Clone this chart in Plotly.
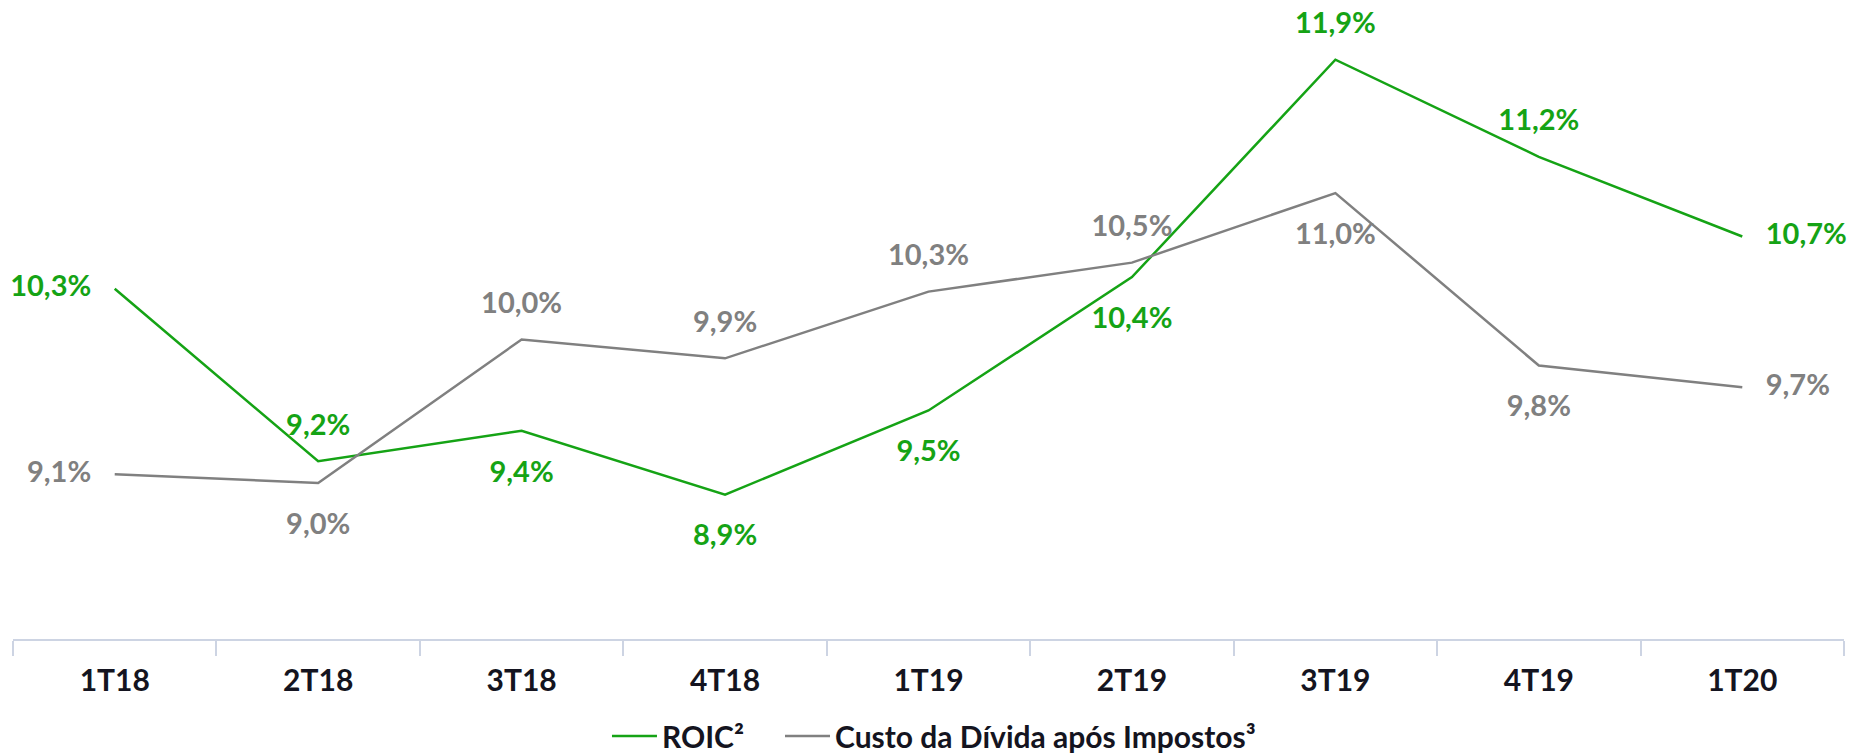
import plotly.graph_objects as go

categories = ["1T18", "2T18", "3T18", "4T18", "1T19", "2T19", "3T19", "4T19", "1T20"]

roic = [10.34, 9.15, 9.36, 8.92, 9.50, 10.42, 11.92, 11.25, 10.70]
roic_labels = ["10,3%", "9,2%", "9,4%", "8,9%", "9,5%", "10,4%", "11,9%", "11,2%", "10,7%"]

custo = [9.06, 9.00, 9.99, 9.86, 10.32, 10.52, 11.00, 9.81, 9.66]
custo_labels = ["9,1%", "9,0%", "10,0%", "9,9%", "10,3%", "10,5%", "11,0%", "9,8%", "9,7%"]

roic_pos = ["middle left", "top center", "bottom center", "bottom center", "bottom center",
            "bottom center", "top center", "top center", "middle right"]
custo_pos = ["middle left", "bottom center", "top center", "top center", "top center",
             "top center", "bottom center", "bottom center", "middle right"]

GREEN = "#15A315"
GRAY = "#808080"
DARK = "#141420"
FONT = "Lato"
FS = 29

# invisible marker size only used to push the labels away from the points
offset_size = {"top center": 29, "bottom center": 45, "middle left": 36, "middle right": 36}


def trace(name, y, labels, pos, color, legend):
    return go.Scatter(
        x=categories, y=y, name=name, legend=legend,
        mode="lines+markers+text",
        text=labels, textposition=pos,
        textfont=dict(family=FONT, size=FS, color=color, weight="bold"),
        line=dict(color=color, width=2.5),
        marker=dict(size=[offset_size[p] for p in pos], color="rgba(0,0,0,0)",
                    line=dict(width=0)),
        hoverinfo="skip", cliponaxis=False,
    )


fig = go.Figure()
fig.add_trace(trace("ROIC²", roic, roic_labels, roic_pos, GREEN, "legend"))
fig.add_trace(trace("Custo da Dívida após Impostos³", custo, custo_labels, custo_pos, GRAY, "legend2"))

legend_style = dict(
    orientation="h", xanchor="left", y=-0.153, yanchor="middle",
    font=dict(family=FONT, size=30, color=DARK, weight="bold"),
    itemwidth=45, bgcolor="rgba(0,0,0,0)",
)

fig.update_layout(
    width=1863, height=754,
    paper_bgcolor="white", plot_bgcolor="white",
    margin=dict(l=13, r=19, t=5, b=115, autoexpand=False),
    font=dict(family=FONT, size=FS, color=DARK),
    showlegend=True,
    legend=dict(x=0.3244, **legend_style),
    legend2=dict(x=0.4189, **legend_style),
)
fig.update_xaxes(
    type="category", range=[-0.5, 8.5], showgrid=False, zeroline=False,
    showline=True, linecolor="#CDD4E3", linewidth=2,
    ticks="outside", tickson="boundaries", ticklen=15, tickcolor="#CDD4E3", tickwidth=1.5,
    tickfont=dict(family=FONT, size=30, color=DARK, weight="bold"),
    ticklabelstandoff=14,
)
fig.update_yaxes(visible=False, range=[7.924, 12.297], showgrid=False, zeroline=False)

fig.write_html(
    "out.html",
    config={"displayModeBar": False},
    post_script="document.body.style.margin='0';document.body.style.overflow='hidden';",
)
